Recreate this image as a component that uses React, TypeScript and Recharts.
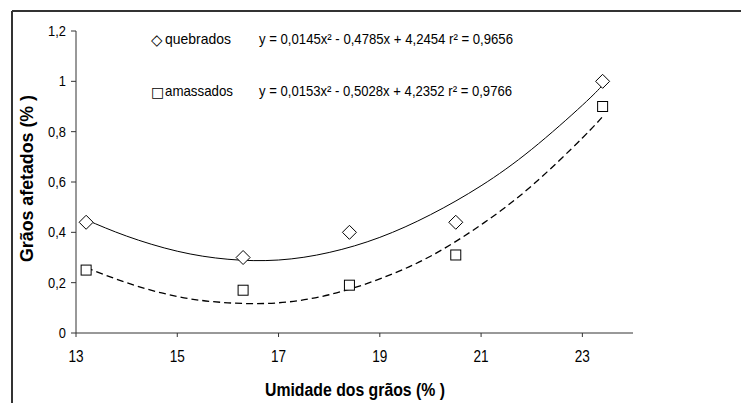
import { ComposedChart, Line, Scatter, XAxis, YAxis } from "recharts"

// pontos observados
const umidade = [13.2, 16.3, 18.4, 20.5, 23.4]
const quebrados = [0.44, 0.3, 0.4, 0.44, 1.0]
const amassados = [0.25, 0.17, 0.19, 0.31, 0.9]

// curvas de tendência
const trendX = [13.2, 14, 15, 16, 17, 18, 19, 20, 21, 22, 23, 23.4]
const trendQuebrados = [0.45, 0.385, 0.325, 0.293, 0.29, 0.32, 0.38, 0.47, 0.585, 0.73, 0.905, 0.985]
const trendAmassados = [0.26, 0.2, 0.145, 0.12, 0.12, 0.152, 0.215, 0.305, 0.43, 0.585, 0.775, 0.86]

const xTicks = [13, 15, 17, 19, 21, 23]
const yTicks = [0, 0.2, 0.4, 0.6, 0.8, 1, 1.2]

const FONT = "'Liberation Sans', Arial, sans-serif"

const pointsQ = umidade.map((x, i) => ({ x, y: quebrados[i] }))
const pointsA = umidade.map((x, i) => ({ x, y: amassados[i] }))
const curveQ = trendX.map((x, i) => ({ x, y: trendQuebrados[i] }))
const curveA = trendX.map((x, i) => ({ x, y: trendAmassados[i] }))

const fmt = (v: number) => String(v).replace(".", ",")

function Diamond(props: any) {
  const { cx, cy } = props
  const r = 7
  return (
    <path
      d={`M${cx},${cy - r}L${cx + r},${cy}L${cx},${cy + r}L${cx - r},${cy}Z`}
      fill="#fff"
      stroke="#000"
      strokeWidth={1}
    />
  )
}

function Square(props: any) {
  const { cx, cy } = props
  const h = 5
  return <rect x={cx - h} y={cy - h} width={h * 2} height={h * 2} fill="#fff" stroke="#000" strokeWidth={1} />
}

function XTick(props: any) {
  const { x, y, payload } = props
  return (
    <g transform={`translate(${x},${y}) scale(0.85,1)`}>
      <text x={0} y={0} dy={11} textAnchor="middle" fontFamily={FONT} fontSize={16} fill="#000">
        {fmt(payload.value)}
      </text>
    </g>
  )
}

function YTick(props: any) {
  const { x, y, payload } = props
  return (
    <g transform={`translate(${x},${y}) scale(0.92,1)`}>
      <text x={0} y={0} dy={5} textAnchor="end" fontFamily={FONT} fontSize={14} fill="#000">
        {fmt(payload.value)}
      </text>
    </g>
  )
}

function T({ x, y, len, size = 15, children }: { x: number; y: number; len?: number; size?: number; children: any }) {
  return (
    <text
      x={x}
      y={y}
      fontFamily={FONT}
      fontSize={size}
      fill="#000"
      textLength={len}
      lengthAdjust={len ? "spacingAndGlyphs" : undefined}
    >
      {children}
    </text>
  )
}

export default function App() {
  return (
    <div style={{ position: "absolute", left: 0, top: 0, width: 741, height: 403, background: "#fff" }}>
      <ComposedChart width={741} height={403} margin={{ top: 31, right: 108, bottom: 40, left: 12 }}>
        <XAxis
          type="number"
          dataKey="x"
          domain={[13, 24]}
          ticks={xTicks}
          allowDataOverflow
          height={30}
          tickSize={4}
          tickMargin={14}
          stroke="#333"
          tick={XTick}
        />
        <YAxis
          type="number"
          dataKey="y"
          domain={[0, 1.2]}
          ticks={yTicks}
          width={64}
          tickSize={5}
          tickMargin={5}
          stroke="#333"
          tick={YTick}
        />
        <Line
          data={curveQ}
          dataKey="y"
          type="natural"
          stroke="#000"
          strokeWidth={1}
          dot={false}
          isAnimationActive={false}
        />
        <Line
          data={curveA}
          dataKey="y"
          type="natural"
          stroke="#000"
          strokeWidth={1.3}
          strokeDasharray="7 4"
          dot={false}
          isAnimationActive={false}
        />
        <Scatter data={pointsQ} dataKey="y" shape={Diamond} isAnimationActive={false} />
        <Scatter data={pointsA} dataKey="y" shape={Square} isAnimationActive={false} />
      </ComposedChart>

      <svg width={741} height={403} style={{ position: "absolute", left: 0, top: 0, pointerEvents: "none" }}>
        <line x1={12} y1={11} x2={741} y2={11} stroke="#333" strokeWidth={2} />
        <line x1={12} y1={11} x2={12} y2={403} stroke="#333" strokeWidth={2} />

        <text x={151} y={45} fontFamily="'DejaVu Sans', sans-serif" fontSize={15} fill="#000">◇</text>
        <T x={165} y={44} len={66}>quebrados</T>
        <T x={259} y={44} len={254}>y = 0,0145x² - 0,4785x + 4,2454  r² = 0,9656</T>

        <text x={151} y={97} fontFamily="'DejaVu Sans', sans-serif" fontSize={14} fill="#000">□</text>
        <T x={165} y={96} len={68}>amassados</T>
        <T x={259} y={96} len={253}>y = 0,0153x² - 0,5028x + 4,2352  r² = 0,9766</T>

        <text
          x={265}
          y={396}
          fontFamily={FONT}
          fontWeight="bold"
          fontSize={18}
          fill="#000"
          textLength={180}
          lengthAdjust="spacingAndGlyphs"
        >
          Umidade dos grãos (% )
        </text>
        <text
          transform="translate(33,262) rotate(-90)"
          fontFamily={FONT}
          fontWeight="bold"
          fontSize={18}
          fill="#000"
          textLength={167}
          lengthAdjust="spacingAndGlyphs"
        >
          Grãos afetados (% )
        </text>
      </svg>
    </div>
  )
}
